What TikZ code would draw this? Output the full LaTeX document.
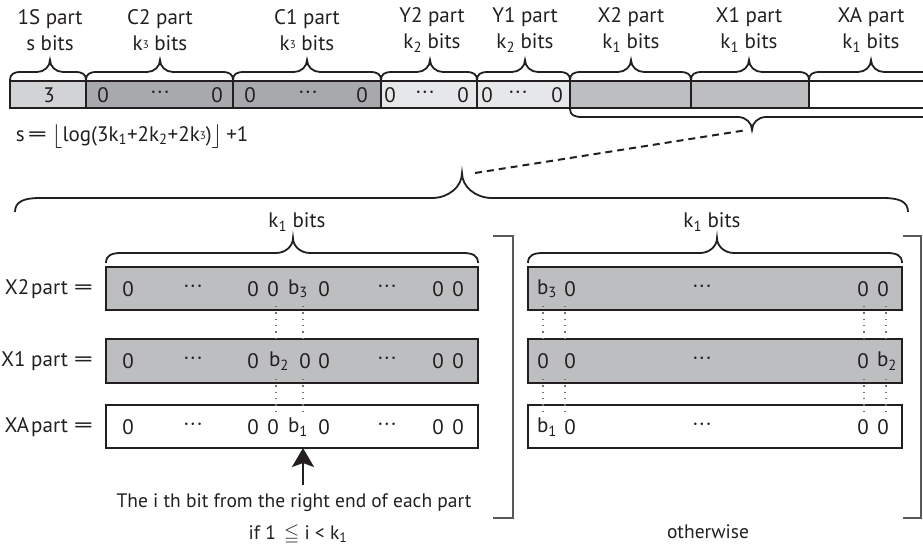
\documentclass[tikz,border=0pt]{standalone}
\usepackage{fontspec}
\usepackage{amssymb}
\usepackage{graphicx}
\setmainfont{PT Sans}
\usetikzlibrary{arrows.meta}
\definecolor{gS}{HTML}{D1D3D4}
\definecolor{gC}{HTML}{A7A9AC}
\definecolor{gY}{HTML}{E6E7E8}
\definecolor{gX}{HTML}{BCBEC0}
\definecolor{ink}{HTML}{231F20}
\definecolor{brk}{HTML}{58595B}
\newcommand{\fs}{\fontsize{21}{26}\selectfont}
\newcommand{\kthree}{k\raisebox{0.15ex}{\fontsize{11}{11}\selectfont 3}}
\newcommand{\ksub}[1]{k\textsubscript{#1}}
\newcommand{\wideeq}{\scalebox{1.8}[1]{=}}
\newcommand{\mdots}{\textperiodcentered\kern1pt\textperiodcentered\kern1pt\textperiodcentered}
\newcommand{\cellnode}[6]{\node[cellsty,fill=#2,minimum width={(#5-#3)*1pt},minimum height={(#6-#4)*1pt},anchor=north west] (#1) at (#3,#4) {};}
\newcommand{\bracepath}[8]{%
 \draw[bracesty] (#1,#4) .. controls (#1,{#5+0.25*(#4-#5)}) and ({#1+0.35*#7},#5) .. ({#1+#7},#5)
 -- ({#2-#8},#5) .. controls ({#2-0.45*#8},#5) and (#2,{#5+0.45*(#6-#5)}) .. (#2,#6)
 .. controls (#2,{#5+0.45*(#6-#5)}) and ({#2+0.45*#8},#5) .. ({#2+#8},#5)
 -- ({#3-#7},#5) .. controls ({#3-0.35*#7},#5) and (#3,{#5+0.25*(#4-#5)}) .. (#3,#4);}
\begin{document}
\begin{tikzpicture}[x=1pt,y=-1pt,
  every node/.style={inner sep=0pt,outer sep=0pt,font=\fs,text=ink},
  cellsty/.style={draw=ink,line width=2.4pt,rectangle},
  bracesty/.style={draw=ink,line width=1.8pt},
  lbl/.style={align=center},
  brksty/.style={draw=brk,line width=2pt},
  dotsty/.style={draw=black!55,line width=1.1pt,dash pattern=on 1.3pt off 5pt},
  dashsty/.style={draw=ink,line width=2pt,dash pattern=on 7pt off 5pt}]
\path[use as bounding box] (0,0) rectangle (923,551);
\clip (0,0) rectangle (923,551);
% ---- top bar ----
\cellnode{b1S}{gS}{10}{81}{86}{108}
\cellnode{bC2}{gC}{86}{81}{233}{108}
\cellnode{bC1}{gC}{233}{81}{381}{108}
\cellnode{bY2}{gY}{381}{81}{477}{108}
\cellnode{bY1}{gY}{477}{81}{570}{108}
\cellnode{bX2}{gX}{570}{81}{691}{108}
\cellnode{bX1}{gX}{691}{81}{809}{108}
\cellnode{bXA}{white}{809}{81}{940}{108}
\node (t1S) at (49,95) {3};
\foreach \x/\t [count=\i] in {103/0,160/\mdots,217/0,250/0,308/\mdots,362/0,390/0,425/\mdots,463/0,487/0,518/\mdots,557/0}
  \node (tt\i) at (\x,95) {\t};
% top labels
\node[lbl] (h1S) at (50,30) {1S part\\s bits};
\node[lbl] (hC2) at (160,30) {C2 part\\\kthree{} bits};
\node[lbl] (hC1) at (307,30) {C1 part\\\kthree{} bits};
\node[lbl] (hY2) at (432,30) {Y2 part\\\ksub{2} bits};
\node[lbl] (hY1) at (525,30) {Y1 part\\\ksub{2} bits};
\node[lbl] (hX2) at (631,30) {X2 part\\\ksub{1} bits};
\node[lbl] (hX1) at (749,30) {X1 part\\\ksub{1} bits};
\node[lbl] (hXA) at (871,30) {XA part\\\ksub{1} bits};
% top braces
\bracepath{10}{50}{86}{80}{72}{60}{11}{13}
\bracepath{86}{160}{233}{80}{72}{60}{11}{13}
\bracepath{233}{307}{381}{80}{72}{60}{11}{13}
\bracepath{381}{430}{477}{80}{72}{60}{11}{13}
\bracepath{477}{525}{570}{80}{72}{60}{11}{13}
\bracepath{570}{631}{691}{80}{72}{60}{11}{13}
\bracepath{691}{749}{809}{80}{72}{60}{11}{13}
\bracepath{809}{871}{935}{80}{72}{60}{11}{13}
% formula
\node[anchor=west] (formula) at (16,137) {s\kern3pt\wideeq\kern5pt\raisebox{-0.15ex}{\scalebox{1.15}{$\lfloor$}}log(3\ksub{1}+2\ksub{2}+2\kthree)\raisebox{-0.15ex}{\scalebox{1.15}{$\rfloor$}}\kern4pt+1};
% lower brace under X parts and big brace
\bracepath{570}{752}{934}{109}{117}{130}{12}{14}
\bracepath{15}{462}{908}{212}{198}{173}{25}{30}
\coordinate (lowtip) at (747,130);
\coordinate (bigtip) at (475,173);
\draw[dashsty] (bigtip) -- (lowtip);
% k1 bits labels and inner braces
\node (k1L) at (297,222) {\ksub{1} bits};
\node (k1R) at (712,222) {\ksub{1} bits};
\bracepath{106}{293}{478}{263}{253}{238}{15}{17}
\bracepath{528}{717}{902}{263}{253}{238}{15}{17}
% brackets
\draw[brksty] (493,236) -- (513,236) -- (513,518) -- (493,518);
\draw[brksty] (903,236) -- (921,236) -- (921,518) -- (903,518);
% lower boxes
\cellnode{x2L}{gX}{106}{267}{478}{310}
\cellnode{x1L}{gX}{106}{339}{478}{383}
\cellnode{xaL}{white}{106}{405}{478}{448}
\cellnode{x2R}{gX}{528}{267}{902}{310}
\cellnode{x1R}{gX}{528}{339}{902}{383}
\cellnode{xaR}{white}{528}{405}{902}{448}
% row labels
\node[anchor=east] (lx2) at (93,289) {X2\kern2pt part\kern6pt\wideeq};
\node[anchor=east] (lx1) at (93,361) {X1 part\kern6pt\wideeq};
\node[anchor=east] (lxa) at (93,427) {XA\kern2pt part\kern6pt\wideeq};
% left rows
\foreach \x/\t [count=\i] in {128/0,193/\mdots,253/0,273/0,298/{b\textsubscript{3}},324/0,387/\mdots,438/0,458/0}
  \node (ra\i) at (\x,289) {\t};
\foreach \x/\t [count=\i] in {128/0,193/\mdots,253/0,279/{b\textsubscript{2}},305/0,324/0,387/\mdots,438/0,458/0}
  \node (rb\i) at (\x,361) {\t};
\foreach \x/\t [count=\i] in {128/0,193/\mdots,253/0,273/0,298/{b\textsubscript{1}},324/0,387/\mdots,438/0,458/0}
  \node (rc\i) at (\x,427) {\t};
% right rows
\foreach \x/\t [count=\i] in {547/{b\textsubscript{3}},570/0,702/\mdots,863/0,883/0}
  \node (sa\i) at (\x,289) {\t};
\foreach \x/\t [count=\i] in {543/0,570/0,702/\mdots,863/0,887/{b\textsubscript{2}}}
  \node (sb\i) at (\x,361) {\t};
\foreach \x/\t [count=\i] in {547/{b\textsubscript{1}},570/0,702/\mdots,863/0,883/0}
  \node (sc\i) at (\x,427) {\t};
% dotted alignment lines
\foreach \x in {276,303,543,565,864,886}{
  \draw[dotsty] (\x,306) -- (\x,343);
  \draw[dotsty] (\x,379) -- (\x,412);
}
% arrow and captions
\coordinate (arrtail) at (303,485);
\draw[draw=ink,line width=2.4pt,-{Stealth[length=19pt,width=22pt,inset=4pt]}] (arrtail) -- (arrtail |- xaL.south);
\node[font=\fontsize{19.5}{24}\selectfont] (cap1) at (294,503) {The i th bit from the right end of each part};
\node[font=\fontsize{19.5}{24}\selectfont] (cap2) at (298,535) {if 1 \kern3pt$\leqq$ i < \ksub{1}};
\node[font=\fontsize{19.5}{24}\selectfont] (cap3) at (708,532) {otherwise};
\end{tikzpicture}
\end{document}
